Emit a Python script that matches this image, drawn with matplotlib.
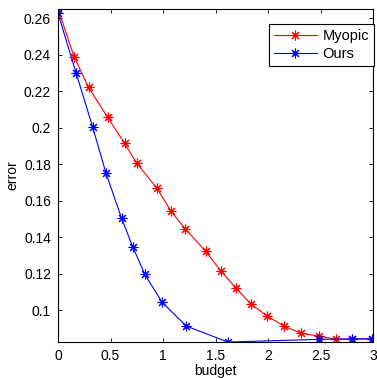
import matplotlib.pyplot as plt

# Myopic (red) and Ours (blue) error vs budget
budget_myopic = [0.0, 0.152, 0.29, 0.472, 0.633, 0.747, 0.943, 1.076, 1.21, 1.406,
                 1.547, 1.69, 1.836, 1.99, 2.149, 2.314, 2.48, 2.646, 2.80, 2.99]
error_myopic = [0.2652, 0.239, 0.2222, 0.2058, 0.1915, 0.1807, 0.1668, 0.1542, 0.1447, 0.1323,
                0.1217, 0.1124, 0.1034, 0.0969, 0.0914, 0.0874, 0.0859, 0.0841, 0.0841, 0.0844]

budget_ours = [0.0, 0.171, 0.33, 0.456, 0.605, 0.71, 0.826, 0.99, 1.22, 1.617, 2.48, 2.80, 2.99]
error_ours = [0.2627, 0.2302, 0.2003, 0.1752, 0.1504, 0.1349, 0.1197, 0.1044, 0.0914, 0.0826,
              0.0841, 0.0844, 0.0844]

plt.rcParams['font.family'] = ['Liberation Sans', 'DejaVu Sans']
plt.rcParams['font.size'] = 10

fig = plt.figure(figsize=(3.77, 3.78), dpi=100)
ax = fig.add_axes([0.154, 0.096, 0.836, 0.880])

asterisk = (8, 2, 0)
ax.plot(budget_myopic, error_myopic, color='red', lw=0.8, marker=asterisk,
        markersize=7, markeredgewidth=0.8, label='Myopic')
ax.plot(budget_ours, error_ours, color='blue', lw=0.8, marker=asterisk,
        markersize=7, markeredgewidth=0.8, label='Ours')

ax.set_xlim(0, 3)
ax.set_ylim(0.0828, 0.2651)
ax.set_xticks([0, 0.5, 1, 1.5, 2, 2.5, 3])
ax.set_xticklabels(['0', '0.5', '1', '1.5', '2', '2.5', '3'])
ax.set_yticks([0.1, 0.12, 0.14, 0.16, 0.18, 0.2, 0.22, 0.24, 0.26])
ax.set_yticklabels(['0.1', '0.12', '0.14', '0.16', '0.18', '0.2', '0.22', '0.24', '0.26'])
ax.tick_params(direction='in', top=True, right=True, length=3, width=0.6, pad=5)
for s in ax.spines.values():
    s.set_linewidth(0.8)

ax.set_xlabel('budget', labelpad=1)
ax.set_ylabel('error', labelpad=3)

leg = ax.legend(loc='upper right', bbox_to_anchor=(1.003, 0.955), fancybox=False,
                edgecolor='black', framealpha=1, borderpad=0.35, handlelength=2.9,
                handletextpad=0.4, labelspacing=0.25, borderaxespad=0, fontsize=10.5)
leg.get_frame().set_linewidth(0.8)

fig.savefig('out.png', dpi=100)
